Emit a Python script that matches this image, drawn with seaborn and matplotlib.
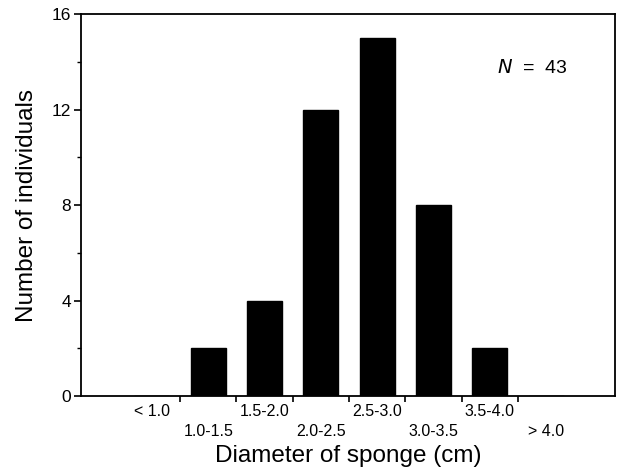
import matplotlib
matplotlib.use("Agg")
import matplotlib.pyplot as plt
import seaborn as sns
import pandas as pd

# size classes of sponge diameter (cm) and counts
size_classes = ["< 1.0", "1.0-1.5", "1.5-2.0", "2.0-2.5", "2.5-3.0", "3.0-3.5", "3.5-4.0", "> 4.0"]
counts = [0, 2, 4, 12, 15, 8, 2, 0]
y_ticks = [0, 4, 8, 12, 16]
y_minor = [2, 6, 10, 14]

sns.set_style("ticks")
plt.rcParams['font.family'] = ['Liberation Sans', 'DejaVu Sans']
plt.rcParams['text.color'] = 'black'
plt.rcParams['axes.labelcolor'] = 'black'
plt.rcParams['xtick.color'] = 'black'
plt.rcParams['ytick.color'] = 'black'
plt.rcParams['axes.edgecolor'] = 'black'

df = pd.DataFrame({"size": size_classes, "count": counts})

fig = plt.figure(figsize=(6.23, 4.71), dpi=100)
ax = fig.add_axes([0.130, 0.159, 0.857, 0.811])

sns.barplot(data=df, x="size", y="count", color="black", width=0.62,
            saturation=1, ax=ax, edgecolor="black")

ax.set_xlim(-1.26, 8.22)
ax.set_ylim(0, 16)

# y axis ticks
ax.set_yticks(y_ticks)
ax.set_yticks(y_minor, minor=True)
ax.tick_params(axis="y", which="major", direction="out", length=5, width=1.2,
               labelsize=12.5, pad=2)
ax.tick_params(axis="y", which="minor", direction="out", length=3, width=1)

# x axis: ticks at class boundaries, labels staggered at class centres
bounds = [i + 0.5 for i in range(len(size_classes) - 1)]
ax.set_xticks(bounds)
ax.set_xticklabels([])
ax.set_xticks(range(len(size_classes)), minor=True)
ax.set_xticklabels([lab if i % 2 == 0 else "\n" + lab
                    for i, lab in enumerate(size_classes)], minor=True)
ax.tick_params(axis="x", which="major", direction="out", length=4, width=1.2)
ax.tick_params(axis="x", which="minor", length=0, labelsize=11.5, pad=6)
for t in ax.get_xticklabels(minor=True):
    t.set_linespacing(1.4)

for s in ax.spines.values():
    s.set_visible(True)
    s.set_linewidth(1.3)

ax.set_xlabel("Diameter of sponge (cm)", fontsize=17.5, labelpad=4)
ax.set_ylabel("Number of individuals", fontsize=17.5, labelpad=10)

ax.text(6.75, 13.75, "$N$  =  43", fontsize=14, ha="center", va="center")

fig.savefig("out.png", dpi=100)
